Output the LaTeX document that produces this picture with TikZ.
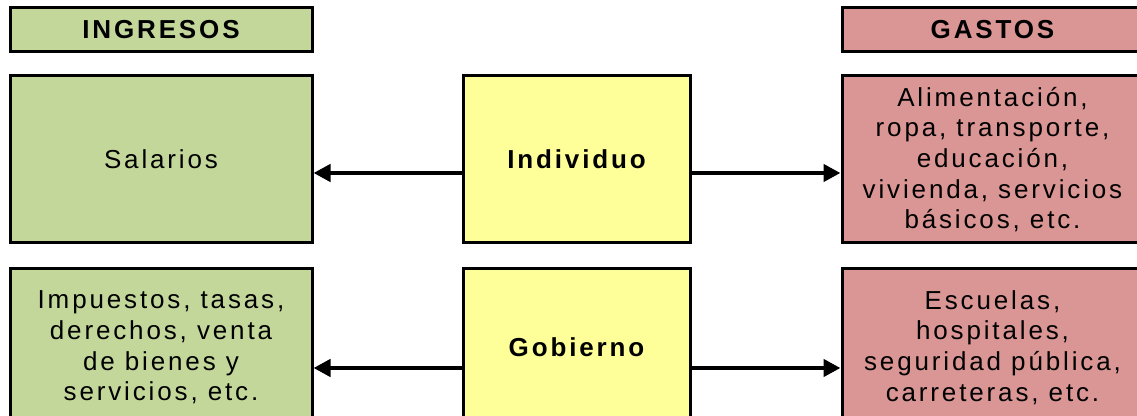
\documentclass[tikz,border=0pt]{standalone}
\usepackage{fontspec}
\setmainfont{Liberation Sans}[LetterSpace=11]
\usetikzlibrary{arrows.meta}
\definecolor{ingr}{HTML}{C4D79B}
\definecolor{gast}{HTML}{DA9694}
\definecolor{cent}{HTML}{FFFF99}
\tikzset{
  box/.style={draw=black, line width=1.5pt, rectangle, align=center, inner sep=0pt,
    font=\fontsize{13}{15.3}\selectfont},
  leftcol/.style={box, fill=ingr, minimum width=151pt},
  midcol/.style={box, fill=cent, minimum width=113.5pt, font=\fontsize{13}{15.3}\selectfont\bfseries},
  rightcol/.style={box, fill=gast, minimum width=150.5pt},
  headrow/.style={minimum height=22.25pt, font=\fontsize{13}{15.3}\selectfont\bfseries},
  rowone/.style={minimum height=83.5pt},
  rowtwo/.style={minimum height=78.5pt},
  arr/.style={line width=2.35pt, -{Triangle[length=8.5pt,width=8.5pt]}}
}
\begin{document}
\begin{tikzpicture}[x=0.5pt,y=-0.5pt]
\useasboundingbox (0,0) rectangle (1137,416);
\clip (0,0) rectangle (1137,416);
\fill[white] (0,0) rectangle (1137,416);
\node[leftcol, headrow] (hin) at (161,29.75) {INGRESOS};
\node[rightcol, headrow] (hga) at (992.5,29.75) {GASTOS};
\node[leftcol, rowone] (sal) at (161,159.5) {Salarios};
\node[midcol, rowone] (ind) at (576.5,159.5) {Individuo};
\node[rightcol, rowone] (gi) at (992.5,159.5) {Alimentación,\\ropa, transporte,\\educación,\\vivienda, servicios\\básicos, etc.};
\node[leftcol, rowtwo] (imp) at (161,347.5) {Impuestos, tasas,\\derechos, venta\\de bienes y\\servicios, etc.};
\node[midcol, rowtwo] (gob) at (576.5,347.5) {Gobierno};
\node[rightcol, rowtwo] (gg) at (992.5,347.5) {Escuelas,\\hospitales,\\seguridad pública,\\carreteras, etc.};
\coordinate (y1) at (0,173);
\coordinate (y2) at (0,368);
\draw[arr] (ind.west |- y1) -- (sal.east |- y1);
\draw[arr] (ind.east |- y1) -- (gi.west |- y1);
\draw[arr] (gob.west |- y2) -- (imp.east |- y2);
\draw[arr] (gob.east |- y2) -- (gg.west |- y2);
\end{tikzpicture}
\end{document}
